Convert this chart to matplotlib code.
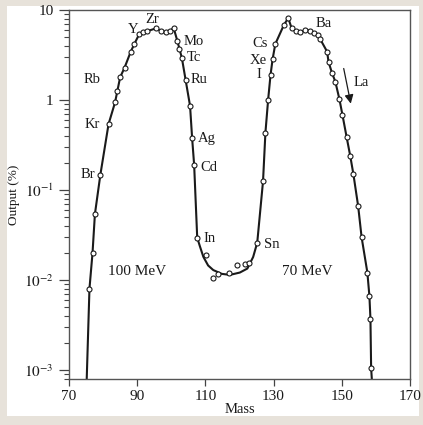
import matplotlib
matplotlib.use("Agg")
import matplotlib.pyplot as plt
from matplotlib.patches import Rectangle

plt.rcParams['font.family'] = ['Liberation Serif', 'DejaVu Serif']
plt.rcParams['mathtext.fontset'] = 'stix'

# ---- measured points (mass, output %) ----
pt_mass = [76.0, 76.9, 77.6, 79.2, 81.6, 83.5, 84.2, 85.0, 86.3, 88.1, 89.2, 90.6,
           91.6, 92.8, 95.5, 96.9, 98.4, 99.6, 100.7, 101.8, 102.4, 103.1, 104.2,
           105.5, 106.1, 106.7, 107.6, 110.2, 112.1, 113.8, 116.9, 119.4, 121.6,
           122.9, 125.2, 126.9, 127.6, 128.4, 129.1, 129.7, 130.5, 133.0, 134.3,
           135.3, 136.6, 137.8, 139.3, 140.7, 141.9, 143.1, 143.7, 145.7, 146.1,
           147.1, 148.1, 149.3, 150.2, 151.4, 152.5, 153.4, 154.8, 155.8, 157.5,
           158.1, 158.4, 158.6]
pt_out = [0.008, 0.020, 0.054, 0.148, 0.54, 0.94, 1.27, 1.79, 2.29, 3.44, 4.22, 5.4,
          5.65, 5.8, 6.25, 5.9, 5.65, 5.85, 6.3, 4.49, 3.68, 2.93, 1.67,
          0.86, 0.38, 0.19, 0.0295, 0.0191, 0.0104, 0.0117, 0.0119, 0.0147, 0.015,
          0.0153, 0.026, 0.125, 0.433, 1.01, 1.9, 2.83, 4.19, 6.8, 8.15,
          6.25, 5.9, 5.65, 6.0, 5.9, 5.5, 5.22, 4.72, 3.44, 2.66,
          2.01, 1.6, 1.02, 0.68, 0.39, 0.236, 0.15, 0.066, 0.030, 0.0121,
          0.0066, 0.0037, 0.00105]

# ---- fitted curve ----
cv_mass = [75.2, 76.0, 76.9, 77.6, 79.2, 81.6, 83.5, 84.2, 85.0, 86.3, 88.1, 89.2,
           90.6, 91.6, 92.8, 95.5, 96.9, 98.4, 99.6, 100.7, 101.8, 102.4, 103.1,
           104.2, 105.5, 106.1, 106.7, 107.6, 108.4, 109.4, 110.8, 112.3, 114.8,
           117.2, 120.1, 122.3, 124.0, 125.2, 126.9, 127.6, 128.4, 129.1, 129.7,
           130.5, 133.0, 134.3, 135.3, 136.6, 137.8, 139.3, 140.7, 141.9, 143.1,
           143.7, 145.7, 146.1, 147.1, 148.1, 149.3, 150.2, 151.4, 152.5, 153.4,
           154.8, 155.8, 157.5, 158.1, 158.4, 158.6, 158.8]
cv_out = [0.0008, 0.008, 0.020, 0.054, 0.148, 0.54, 0.94, 1.27, 1.79, 2.29, 3.44, 4.22,
          5.4, 5.65, 5.8, 6.25, 5.9, 5.65, 5.85, 6.3, 4.49, 3.68, 2.93,
          1.67, 0.86, 0.38, 0.19, 0.0295, 0.0236, 0.0181, 0.0145, 0.0129, 0.0117,
          0.0114, 0.0121, 0.0134, 0.018, 0.026, 0.125, 0.433, 1.01, 1.9, 2.83,
          4.19, 6.8, 8.15, 6.25, 5.9, 5.65, 6.0, 5.9, 5.5, 5.22,
          4.72, 3.44, 2.66, 2.01, 1.6, 1.02, 0.68, 0.39, 0.236, 0.15,
          0.066, 0.030, 0.0121, 0.0066, 0.0037, 0.00105, 0.0008]

# element labels: text, mass, output, horizontal alignment
elements = [("Zr", 94.3, 7.9, "center"), ("Y", 88.8, 6.15, "center"),
            ("Mo", 103.6, 4.5, "left"), ("Tc", 104.5, 2.93, "left"),
            ("Ru", 105.6, 1.67, "left"), ("Ag", 107.7, 0.37, "left"),
            ("Cd", 108.4, 0.18, "left"), ("In", 109.3, 0.029, "left"),
            ("Sn", 127.1, 0.025, "left"), ("Rb", 79.3, 1.71, "right"),
            ("Kr", 79.1, 0.54, "right"), ("Br", 77.8, 0.15, "right"),
            ("Cs", 128.4, 4.27, "right"), ("Xe", 127.9, 2.78, "right"),
            ("I", 126.3, 1.9, "right"), ("Ba", 142.2, 7.17, "left"),
            ("La", 153.6, 1.58, "left")]

yticks = [1e-3, 1e-2, 1e-1, 1, 10]
ylabels = ['$10^{-3}$', '$10^{-2}$', '$10^{-1}$', '1', '10']
xticks = [70, 90, 110, 130, 150, 170]

ink = '#1a1a1a'

fig = plt.figure(figsize=(4.23, 4.25), dpi=100)
fig.patch.set_facecolor('#e7e2da')
panel = Rectangle((7/423, 1-416/425), 412/423, 410/425,
                  transform=fig.transFigure, facecolor='white',
                  edgecolor='none', zorder=-5)
fig.add_artist(panel)
ax = fig.add_axes([69/423, 1-379/425, 341/423, 369/425])
ax.set_zorder(2)
ax.set_facecolor('white')

ax.plot(cv_mass, cv_out, color=ink, lw=1.5, zorder=2)
ax.plot(pt_mass, pt_out, 'o', ms=3.6, mfc='white', mec=ink, mew=0.8, zorder=3)

ax.set_yscale('log')
ax.set_xlim(70, 170)
ax.set_ylim(10**-3.1, 10)
ax.set_yticks(yticks)
ax.set_yticklabels(ylabels)
ax.set_xticks(xticks)
ax.tick_params(axis='y', which='major', length=7, width=0.9, labelsize=11, colors='#444444',
               labelcolor=ink, pad=4)
ax.tick_params(axis='y', which='minor', length=3.5, width=0.8, colors='#444444')
ax.tick_params(axis='x', which='major', length=5, width=0.9, labelsize=11, colors='#444444',
               labelcolor=ink, pad=3)
ax.tick_params(axis='x', which='minor', bottom=False)
for s in ax.spines.values():
    s.set_color('#555555')
    s.set_linewidth(1.0)

ax.set_xlabel('Mass', fontsize=10.5, labelpad=0, color=ink)
ax.set_ylabel('Output (%)', fontsize=9.5, labelpad=3, color=ink)

for name, m, v, ha in elements:
    ax.text(m, v, name, ha=ha, va='center', fontsize=10.5, color=ink)

ax.text(90.1, 0.0123, '100 MeV', ha='center', va='center', fontsize=11, color=ink)
ax.text(139.8, 0.0123, '70 MeV', ha='center', va='center', fontsize=11, color=ink)

ax.annotate('', xy=(152.8, 0.85), xytext=(150.4, 2.4),
            arrowprops=dict(arrowstyle='-|>', color=ink, lw=0.9,
                            mutation_scale=13))

fig.savefig('out.png', dpi=100, facecolor=fig.get_facecolor())
